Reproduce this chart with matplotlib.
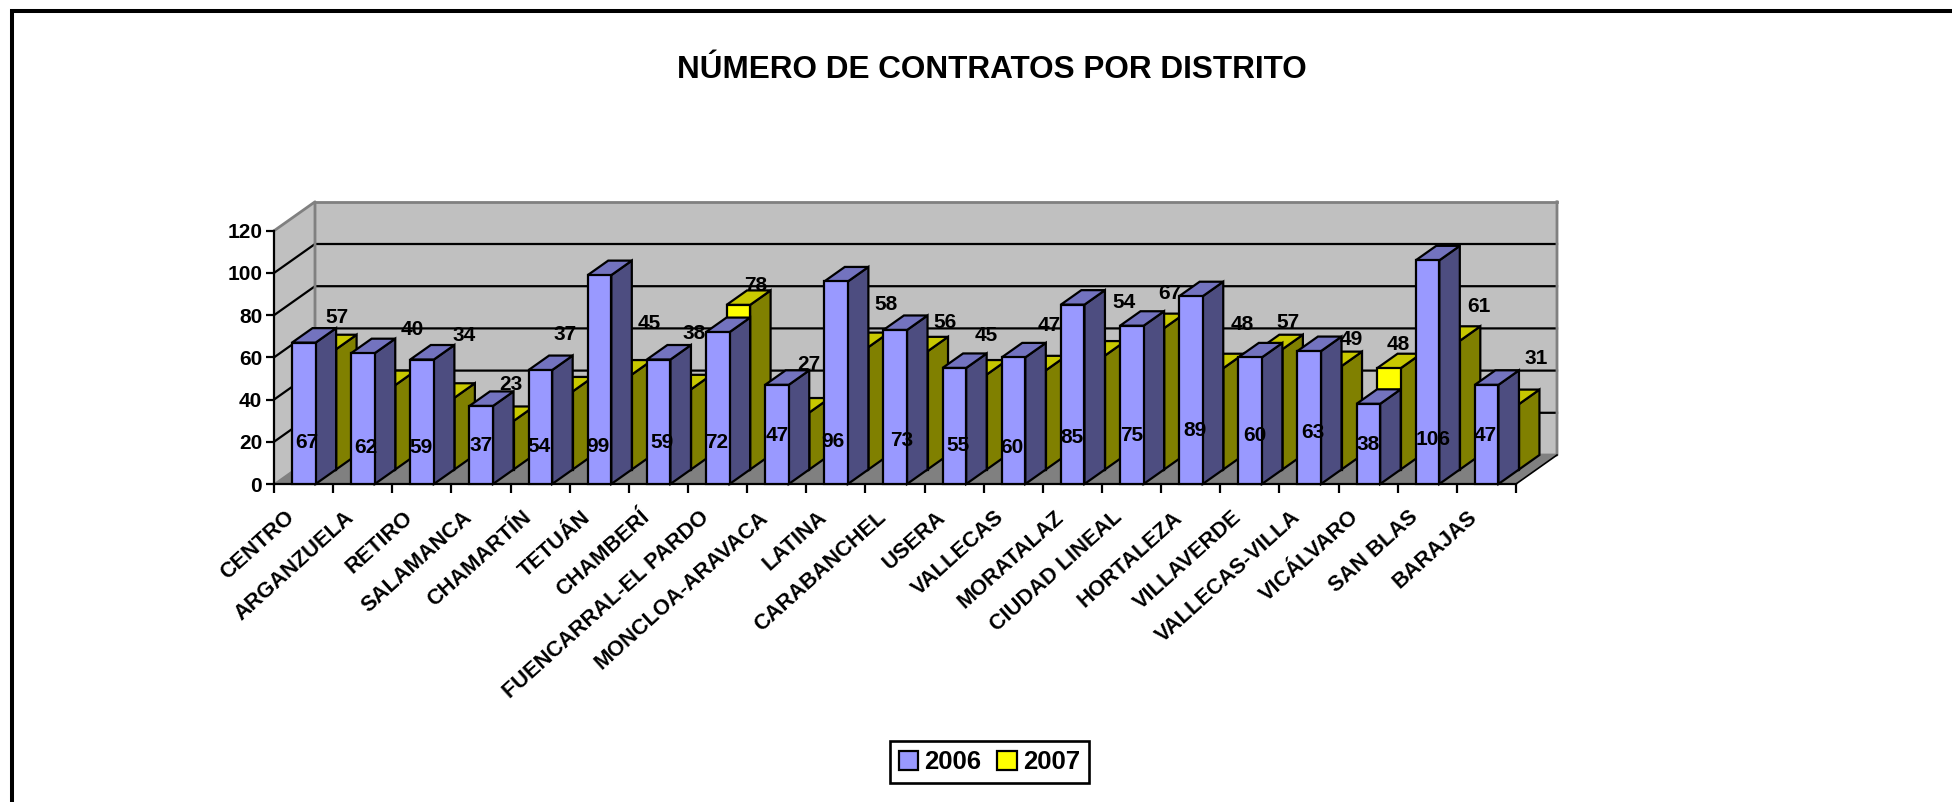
import numpy as np
import matplotlib
matplotlib.use("Agg")
import matplotlib.pyplot as plt
from matplotlib.patches import Patch, Polygon, Rectangle

plt.rcParams['font.family'] = ['Liberation Sans', 'DejaVu Sans']
plt.rcParams['font.weight'] = 'bold'

distritos = ['CENTRO', 'ARGANZUELA', 'RETIRO', 'SALAMANCA', 'CHAMARTÍN', 'TETUÁN', 'CHAMBERÍ',
             'FUENCARRAL-EL PARDO', 'MONCLOA-ARAVACA', 'LATINA', 'CARABANCHEL', 'USERA',
             'VALLECAS', 'MORATALAZ', 'CIUDAD LINEAL', 'HORTALEZA', 'VILLAVERDE',
             'VALLECAS-VILLA', 'VICÁLVARO', 'SAN BLAS', 'BARAJAS']
v2006 = [67, 62, 59, 37, 54, 99, 59, 72, 47, 96, 73, 55, 60, 85, 75, 89, 60, 63, 38, 106, 47]
v2007 = [57, 40, 34, 23, 37, 45, 38, 78, 27, 58, 56, 45, 47, 54, 67, 48, 57, 49, 48, 61, 31]
yticks = [0, 20, 40, 60, 80, 100, 120]

# sitio de cada etiqueta (en pixeles, respecto a la base o a la cima de su barra)
lab06_dx = [3, 3, -1, 0, -1, -1.5, 3, -1, 0, -3, 6, 4, -1.5, -1, 0, 4, 5, 4, 0, 5.5, -1]
lab06_dy = [42, 37, 37, 39, 38, 38, 42, 42, 49, 43, 44, 39, 37, 47, 49, 54, 49, 52, 40, 45, 49]
lab07_dx = [13, 29, 21.5, 9, 4, 29, 15, 17, 11, 29.5, 29, 11, 15, 31, 18, 30.5, 17.5, 22, 9, 31, 29]
lab07_dy = [32, 56, 62.5, 36, 57, 51.5, 56, 19, 48, 43, 29, 39.5, 45, 53.5, 35, 44, 27, 27, 24, 34, 46]

W, H = 1952, 802
X0, X1, Y0 = 274, 1516, 484
PX_CAT = (X1 - X0) / len(distritos)
PX_VAL = 2.11
DX = 41 / PX_CAT      # profundidad en unidades de categoria
DY = 29 / PX_VAL      # profundidad en unidades de valor
BAR_L = 18 / PX_CAT
BAR_W = 23.6 / PX_CAT
LW = 1.6

fig = plt.figure(figsize=(W / 100, H / 100), dpi=100)
fig.patches.append(Rectangle((11.5 / W, -0.02), 1.1, 1.02 - 11.5 / H, transform=fig.transFigure,
                             fill=False, edgecolor='black', linewidth=2.9))

ax = fig.add_axes([X0 / W, 1 - Y0 / H, (X1 - X0) / W, 120 * PX_VAL / H])
n = len(distritos)
ax.set_xlim(0, n)
ax.set_ylim(0, 120)
ax.patch.set_visible(False)
ax.spines['top'].set_visible(False)
ax.spines['right'].set_visible(False)
for s in ['left', 'bottom']:
    ax.spines[s].set_linewidth(LW)
    ax.spines[s].set_zorder(3)

# paredes y suelo
ax.add_patch(Polygon([(0, 0), (DX, DY), (DX, 120 + DY), (n + DX, 120 + DY), (n + DX, DY), (n, 0)],
                     closed=True, facecolor='#C0C0C0', edgecolor='none', zorder=0, clip_on=False))
ax.add_patch(Polygon([(0, 0), (0, 120), (DX, 120 + DY), (DX, DY)], closed=True,
                     facecolor='#C0C0C0', edgecolor='none', zorder=0, clip_on=False))
ax.add_patch(Polygon([(0, 0), (n, 0), (n + DX, DY), (DX, DY)], closed=True,
                     facecolor='#808080', edgecolor='none', zorder=0.5, clip_on=False))
for v in yticks[1:-1]:
    ax.plot([0, DX, n + DX], [v, v + DY, v + DY], color='black', lw=LW, zorder=1, clip_on=False,
            solid_joinstyle='miter')
ax.plot([0, DX, DX, n + DX, n + DX], [120, 120 + DY, DY, DY, 120 + DY], color='#808080', lw=2,
        zorder=1.2, clip_on=False)
ax.plot([DX, n + DX], [120 + DY, 120 + DY], color='#808080', lw=2, zorder=1.2, clip_on=False)
ax.plot([n, n + DX], [0, DY], color='black', lw=1.2, zorder=1.2, clip_on=False)
ax.plot([0, DX], [0, DY], color='#808080', lw=1, zorder=1.2, clip_on=False)


def barras(valores, shift_x, base, front, top, side, z):
    for i, v in enumerate(valores):
        x = i + BAR_L + shift_x
        t = base + v
        d_x, d_y = DX / 2, DY / 2
        ax.add_patch(Polygon([(x + BAR_W, base), (x + BAR_W + d_x, base + d_y), (x + BAR_W + d_x, t + d_y),
                              (x + BAR_W, t)], closed=True, facecolor=side, edgecolor='black', lw=LW,
                             zorder=z + i * 0.01, clip_on=False, joinstyle='miter'))
        ax.add_patch(Polygon([(x, t), (x + BAR_W, t), (x + BAR_W + d_x, t + d_y), (x + d_x, t + d_y)],
                             closed=True, facecolor=top, edgecolor='black', lw=LW,
                             zorder=z + i * 0.01, clip_on=False, joinstyle='miter'))
    ax.bar(np.arange(n) + BAR_L + shift_x, valores, width=BAR_W, bottom=base, align='edge', color=front,
           edgecolor='black', linewidth=LW, zorder=z + 0.5, clip_on=False)


barras(v2007, DX / 2, DY / 2, '#FFFF00', '#C8C800', '#808000', 2)
barras(v2006, 0, 0, '#9999FF', '#7373BF', '#4D4D80', 4)

for i, v in enumerate(v2006):
    ax.annotate(str(v), (i + BAR_L + BAR_W / 2, 0), xytext=(lab06_dx[i], lab06_dy[i]), textcoords='offset pixels',
                ha='center', va='center', fontsize=15, zorder=8, annotation_clip=False)
for i, v in enumerate(v2007):
    ax.annotate(str(v), (i + BAR_L + BAR_W / 2 + DX / 2, DY / 2 + v), xytext=(lab07_dx[i], lab07_dy[i]),
                textcoords='offset pixels', ha='center', va='center', fontsize=15, zorder=8,
                annotation_clip=False)

ax.set_yticks(yticks)
ax.tick_params(axis='y', length=6, width=LW, labelsize=15, pad=2.5)
ax.set_xticks(np.arange(n + 1), minor=True)
ax.tick_params(axis='x', which='minor', length=6.5, width=LW)
ax.set_xticks(np.arange(n) + BAR_L + BAR_W / 2 - 19 / PX_CAT)
ax.set_xticklabels(distritos, rotation=42, ha='right', rotation_mode='anchor', fontsize=15.7)
ax.tick_params(axis='x', which='major', length=0, pad=16.5)

fig.text(992 / W, 1 - 70 / H, 'NÚMERO DE CONTRATOS POR DISTRITO', ha='center', va='center', fontsize=22.7)

leg = fig.legend(handles=[Patch(facecolor='#9999FF', edgecolor='black', lw=LW, label='2006'),
                          Patch(facecolor='#FFFF00', edgecolor='black', lw=LW, label='2007')],
                 loc='center', bbox_to_anchor=(989.5 / W, 1 - 762 / H), ncol=2, fontsize=18.5, fancybox=False,
                 framealpha=1, handlelength=0.76, handleheight=0.76, handletextpad=0.24, columnspacing=0.62,
                 borderpad=0.36, borderaxespad=0)
leg.get_frame().set_edgecolor('black')
leg.get_frame().set_linewidth(1.9)

fig.savefig('out.png', dpi=100)
